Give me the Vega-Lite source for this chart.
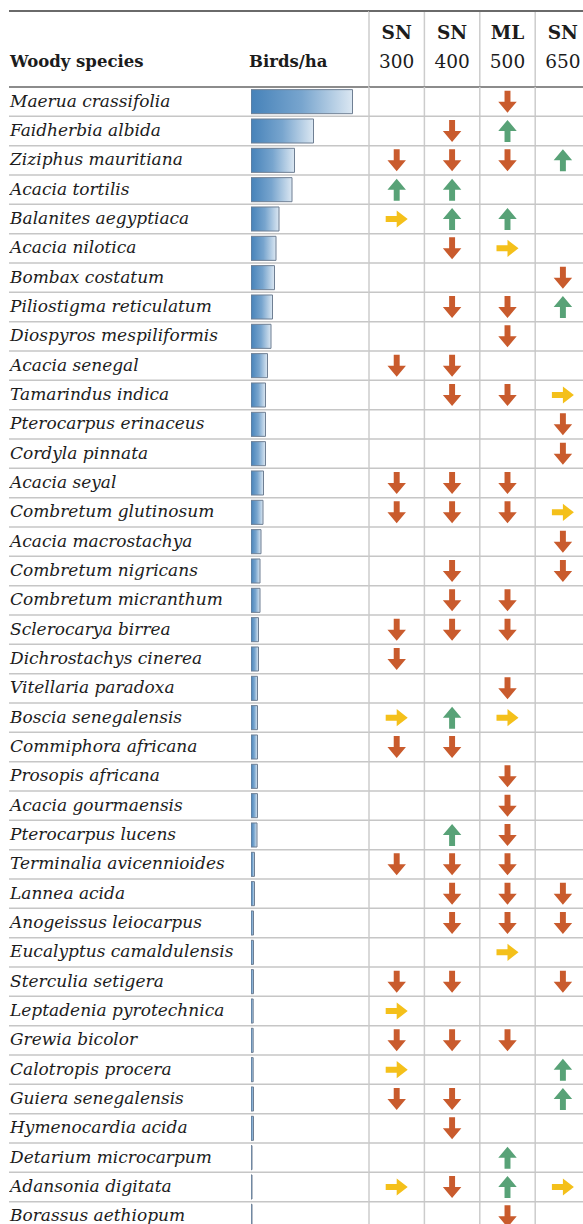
{
  "$schema": "https://vega.github.io/schema/vega-lite/v6.json",
  "background": "white",
  "padding": {"left": 8, "top": 10, "right": 0, "bottom": 0},
  "spacing": 0,
  "bounds": "flush",
  "columns": 3,
  "config": {
    "view": {"stroke": null},
    "concat": {"spacing": 0},
    "text": {"font": "DejaVu Serif", "color": "#1c1c1c"}
  },
  "datasets": {
    "species": [
      {"rank": 1, "name": "Maerua crassifolia", "birds": 10.15, "ML 500": "down"},
      {"rank": 2, "name": "Faidherbia albida", "birds": 6.25, "SN 400": "down", "ML 500": "up"},
      {"rank": 3, "name": "Ziziphus mauritiana", "birds": 4.35, "SN 300": "down", "SN 400": "down", "ML 500": "down", "SN 650": "up"},
      {"rank": 4, "name": "Acacia tortilis", "birds": 4.1, "SN 300": "up", "SN 400": "up"},
      {"rank": 5, "name": "Balanites aegyptiaca", "birds": 2.8, "SN 300": "right", "SN 400": "up", "ML 500": "up"},
      {"rank": 6, "name": "Acacia nilotica", "birds": 2.5, "SN 400": "down", "ML 500": "right"},
      {"rank": 7, "name": "Bombax costatum", "birds": 2.35, "SN 650": "down"},
      {"rank": 8, "name": "Piliostigma reticulatum", "birds": 2.15, "SN 400": "down", "ML 500": "down", "SN 650": "up"},
      {"rank": 9, "name": "Diospyros mespiliformis", "birds": 2.0, "ML 500": "down"},
      {"rank": 10, "name": "Acacia senegal", "birds": 1.65, "SN 300": "down", "SN 400": "down"},
      {"rank": 11, "name": "Tamarindus indica", "birds": 1.45, "SN 400": "down", "ML 500": "down", "SN 650": "right"},
      {"rank": 12, "name": "Pterocarpus erinaceus", "birds": 1.45, "SN 650": "down"},
      {"rank": 13, "name": "Cordyla pinnata", "birds": 1.45, "SN 650": "down"},
      {"rank": 14, "name": "Acacia seyal", "birds": 1.25, "SN 300": "down", "SN 400": "down", "ML 500": "down"},
      {"rank": 15, "name": "Combretum glutinosum", "birds": 1.2, "SN 300": "down", "SN 400": "down", "ML 500": "down", "SN 650": "right"},
      {"rank": 16, "name": "Acacia macrostachya", "birds": 1.0, "SN 650": "down"},
      {"rank": 17, "name": "Combretum nigricans", "birds": 0.9, "SN 400": "down", "SN 650": "down"},
      {"rank": 18, "name": "Combretum micranthum", "birds": 0.9, "SN 400": "down", "ML 500": "down"},
      {"rank": 19, "name": "Sclerocarya birrea", "birds": 0.75, "SN 300": "down", "SN 400": "down", "ML 500": "down"},
      {"rank": 20, "name": "Dichrostachys cinerea", "birds": 0.75, "SN 300": "down"},
      {"rank": 21, "name": "Vitellaria paradoxa", "birds": 0.65, "ML 500": "down"},
      {"rank": 22, "name": "Boscia senegalensis", "birds": 0.65, "SN 300": "right", "SN 400": "up", "ML 500": "right"},
      {"rank": 23, "name": "Commiphora africana", "birds": 0.65, "SN 300": "down", "SN 400": "down"},
      {"rank": 24, "name": "Prosopis africana", "birds": 0.65, "ML 500": "down"},
      {"rank": 25, "name": "Acacia gourmaensis", "birds": 0.65, "ML 500": "down"},
      {"rank": 26, "name": "Pterocarpus lucens", "birds": 0.6, "SN 400": "up", "ML 500": "down"},
      {"rank": 27, "name": "Terminalia avicennioides", "birds": 0.35, "SN 300": "down", "SN 400": "down", "ML 500": "down"},
      {"rank": 28, "name": "Lannea acida", "birds": 0.35, "SN 400": "down", "ML 500": "down", "SN 650": "down"},
      {"rank": 29, "name": "Anogeissus leiocarpus", "birds": 0.25, "SN 400": "down", "ML 500": "down", "SN 650": "down"},
      {"rank": 30, "name": "Eucalyptus camaldulensis", "birds": 0.25, "ML 500": "right"},
      {"rank": 31, "name": "Sterculia setigera", "birds": 0.25, "SN 300": "down", "SN 400": "down", "SN 650": "down"},
      {"rank": 32, "name": "Leptadenia pyrotechnica", "birds": 0.22, "SN 300": "right"},
      {"rank": 33, "name": "Grewia bicolor", "birds": 0.22, "SN 300": "down", "SN 400": "down", "ML 500": "down"},
      {"rank": 34, "name": "Calotropis procera", "birds": 0.22, "SN 300": "right", "SN 650": "up"},
      {"rank": 35, "name": "Guiera senegalensis", "birds": 0.25, "SN 300": "down", "SN 400": "down", "SN 650": "up"},
      {"rank": 36, "name": "Hymenocardia acida", "birds": 0.25, "SN 400": "down"},
      {"rank": 37, "name": "Detarium microcarpum", "birds": 0.1, "ML 500": "up"},
      {"rank": 38, "name": "Adansonia digitata", "birds": 0.1, "SN 300": "right", "SN 400": "down", "ML 500": "up", "SN 650": "right"},
      {"rank": 39, "name": "Borassus aethiopum", "birds": 0.1, "ML 500": "down"}
    ],
    "cols": [
      {"col": "SN 300", "l1": "SN", "l2": "300"},
      {"col": "SN 400", "l1": "SN", "l2": "400"},
      {"col": "ML 500", "l1": "ML", "l2": "500"},
      {"col": "SN 650", "l1": "SN", "l2": "650"}
    ]
  },
  "concat": [
    {
      "width": 242,
      "height": 76,
      "data": {"values": [{"label": "Woody species"}]},
      "layer": [
        {"mark": {"type": "rule", "stroke": "#6a6a6a", "strokeWidth": 2},
         "encoding": {"y": {"datum": 1, "type": "quantitative", "scale": {"domain": [0, 1]}, "axis": null}}},
        {"mark": {"type": "rule", "stroke": "#8c8c8c", "strokeWidth": 2},
         "encoding": {"y": {"datum": 0, "type": "quantitative", "scale": {"domain": [0, 1]}, "axis": null}}},
        {"mark": {"type": "text", "align": "left", "baseline": "middle", "dx": 1, "fontSize": 16.5, "fontWeight": "bold"},
         "encoding": {
           "x": {"datum": 0, "type": "quantitative", "scale": {"domain": [0, 1]}, "axis": null},
           "y": {"datum": 0.325, "type": "quantitative", "scale": {"domain": [0, 1]}, "axis": null},
           "text": {"field": "label"}
         }}
      ]
    },
    {
      "width": 118,
      "height": 76,
      "data": {"values": [{"label": "Birds/ha"}]},
      "layer": [
        {"mark": {"type": "rule", "stroke": "#6a6a6a", "strokeWidth": 2},
         "encoding": {"y": {"datum": 1, "type": "quantitative", "scale": {"domain": [0, 1]}, "axis": null}}},
        {"mark": {"type": "rule", "stroke": "#8c8c8c", "strokeWidth": 2},
         "encoding": {"y": {"datum": 0, "type": "quantitative", "scale": {"domain": [0, 1]}, "axis": null}}},
        {"mark": {"type": "text", "align": "left", "baseline": "middle", "dx": -2, "fontSize": 16.5, "fontWeight": "bold"},
         "encoding": {
           "x": {"datum": 0, "type": "quantitative", "scale": {"domain": [0, 1]}, "axis": null},
           "y": {"datum": 0.325, "type": "quantitative", "scale": {"domain": [0, 1]}, "axis": null},
           "text": {"field": "label"}
         }}
      ]
    },
    {
      "width": 215,
      "height": 76,
      "data": {"name": "cols"},
      "encoding": {
        "x": {"field": "col", "type": "nominal",
              "scale": {"type": "band", "domain": ["SN 300", "SN 400", "ML 500", "SN 650"], "range": [0, 221.6], "paddingInner": 0, "paddingOuter": 0},
              "axis": null}
      },
      "layer": [
        {"mark": {"type": "rule", "stroke": "#cccccc", "strokeWidth": 1.5},
         "encoding": {"x": {"field": "col", "type": "nominal", "bandPosition": 0,
              "scale": {"type": "band", "domain": ["SN 300", "SN 400", "ML 500", "SN 650"], "range": [0, 221.6], "paddingInner": 0, "paddingOuter": 0},
              "axis": null}}},
        {"data": {"values": [{}]},
         "mark": {"type": "rule", "stroke": "#6a6a6a", "strokeWidth": 2},
         "encoding": {"x": null, "y": {"datum": 1, "type": "quantitative", "scale": {"domain": [0, 1]}, "axis": null}}},
        {"data": {"values": [{}]},
         "mark": {"type": "rule", "stroke": "#8c8c8c", "strokeWidth": 2},
         "encoding": {"x": null, "y": {"datum": 0, "type": "quantitative", "scale": {"domain": [0, 1]}, "axis": null}}},
        {"mark": {"type": "text", "align": "center", "baseline": "middle", "fontSize": 18.5, "fontWeight": "bold"},
         "encoding": {
           "y": {"datum": 0.705, "type": "quantitative", "scale": {"domain": [0, 1]}, "axis": null},
           "text": {"field": "l1"}
         }},
        {"mark": {"type": "text", "align": "center", "baseline": "middle", "fontSize": 18.5},
         "encoding": {
           "y": {"datum": 0.325, "type": "quantitative", "scale": {"domain": [0, 1]}, "axis": null},
           "text": {"field": "l2"}
         }}
      ]
    },
    {
      "width": 242,
      "height": 1138,
      "data": {"name": "species"},
      "encoding": {
        "y": {"field": "rank", "type": "ordinal", "scale": {"type": "band", "range": [0, 1144], "paddingInner": 0, "paddingOuter": 0}, "axis": null}
      },
      "layer": [
        {"mark": {"type": "rule", "stroke": "#c6c6c6", "strokeWidth": 1.5, "clip": true},
         "encoding": {"y": {"field": "rank", "type": "ordinal", "bandPosition": 1, "scale": {"type": "band", "range": [0, 1144], "paddingInner": 0, "paddingOuter": 0}, "axis": null}}},
        {"mark": {"type": "text", "align": "left", "baseline": "middle", "dx": 1, "fontSize": 17, "fontStyle": "italic", "clip": true},
         "encoding": {
           "x": {"datum": 0, "type": "quantitative", "scale": {"domain": [0, 1]}, "axis": null},
           "text": {"field": "name"}
         }}
      ]
    },
    {
      "width": 118,
      "height": 1138,
      "data": {"name": "species"},
      "encoding": {
        "y": {"field": "rank", "type": "ordinal", "scale": {"type": "band", "range": [0, 1144], "paddingInner": 0, "paddingOuter": 0}, "axis": null}
      },
      "layer": [
        {"mark": {"type": "rule", "stroke": "#c6c6c6", "strokeWidth": 1.5, "clip": true},
         "encoding": {"y": {"field": "rank", "type": "ordinal", "bandPosition": 1, "scale": {"type": "band", "range": [0, 1144], "paddingInner": 0, "paddingOuter": 0}, "axis": null}}},
        {"mark": {"type": "bar", "height": {"band": 0.82}, "clip": true, "stroke": "#6f7f93", "strokeWidth": 1,
                  "color": {"gradient": "linear", "x1": 0, "y1": 0, "x2": 1, "y2": 0,
                            "stops": [{"offset": 0, "color": "#4682b9"}, {"offset": 0.5, "color": "#78a5ce"}, {"offset": 1, "color": "#dbe7f2"}]}},
         "encoding": {
           "x": {"field": "birds", "type": "quantitative", "scale": {"domain": [0, 11.8], "nice": false, "zero": true}, "axis": null}
         }}
      ]
    },
    {
      "width": 215,
      "height": 1138,
      "data": {"name": "species"},
      "encoding": {
        "y": {"field": "rank", "type": "ordinal", "scale": {"type": "band", "range": [0, 1144], "paddingInner": 0, "paddingOuter": 0}, "axis": null}
      },
      "layer": [
        {"data": {"name": "cols"},
         "mark": {"type": "rule", "stroke": "#cccccc", "strokeWidth": 1.5},
         "encoding": {
           "y": null,
           "x": {"field": "col", "type": "nominal", "bandPosition": 0,
              "scale": {"type": "band", "domain": ["SN 300", "SN 400", "ML 500", "SN 650"], "range": [0, 221.6], "paddingInner": 0, "paddingOuter": 0},
              "axis": null}}},
        {"mark": {"type": "rule", "stroke": "#c6c6c6", "strokeWidth": 1.5, "clip": true},
         "encoding": {"y": {"field": "rank", "type": "ordinal", "bandPosition": 1, "scale": {"type": "band", "range": [0, 1144], "paddingInner": 0, "paddingOuter": 0}, "axis": null}}},
        {"transform": [
           {"fold": ["SN 300", "SN 400", "ML 500", "SN 650"], "as": ["col", "trend"]},
           {"filter": "isValid(datum.trend)"}
         ],
         "mark": {"type": "point", "filled": true, "opacity": 1, "strokeWidth": 0, "clip": true},
         "encoding": {
           "x": {"field": "col", "type": "nominal",
              "scale": {"type": "band", "domain": ["SN 300", "SN 400", "ML 500", "SN 650"], "range": [0, 221.6], "paddingInner": 0, "paddingOuter": 0},
              "axis": null},
           "shape": {"field": "trend", "type": "nominal",
              "scale": {"domain": ["down", "up", "right"],
                        "range": ["M-0.27,-1L0.27,-1L0.27,0L0.84,0L0,1L-0.84,0L-0.27,0Z",
                                  "M-0.27,1L0.27,1L0.27,0L0.84,0L0,-1L-0.84,0L-0.27,0Z",
                                  "M-1,-0.27L0,-0.27L0,-0.78L1,0L0,0.78L0,0.27L-1,0.27Z"]},
              "legend": null},
           "color": {"field": "trend", "type": "nominal",
              "scale": {"domain": ["down", "up", "right"], "range": ["#c95b2d", "#58a277", "#f4c01a"]},
              "legend": null},
           "size": {"value": 484}
         }}
      ]
    }
  ]
}
